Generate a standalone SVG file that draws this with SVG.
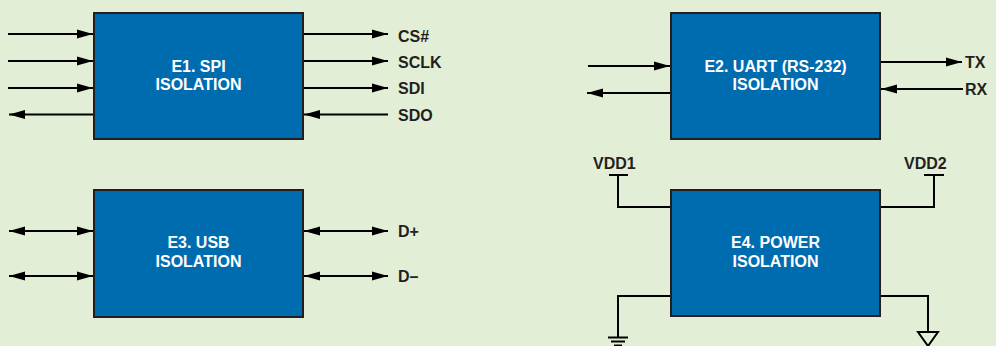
<svg xmlns="http://www.w3.org/2000/svg" width="996" height="346" viewBox="0 0 996 346">
<style>
.box{fill:#006cb0;stroke:#231f20;stroke-width:2}
.t{font-family:"Liberation Sans",Arial,sans-serif;font-weight:bold;font-size:16px;fill:#ffffff;text-anchor:middle}
.l{font-family:"Liberation Sans",Arial,sans-serif;font-weight:bold;font-size:16px;fill:#231f20}
.w{stroke:#000;stroke-width:2;fill:none}
.a{stroke:#000;stroke-width:2;fill:none;marker-end:url(#ah)}
.d{stroke:#000;stroke-width:2;fill:none;marker-end:url(#ah);marker-start:url(#ah)}
</style>
<defs>
<marker id="ah" markerUnits="userSpaceOnUse" markerWidth="16" markerHeight="10" refX="16" refY="5" orient="auto-start-reverse">
<path d="M0,0.5 L16,5 L0,9.5 Z" fill="#000"/>
</marker>
</defs>
<rect x="0" y="0" width="996" height="346" fill="#e2efd6"/>
<g id="connectors">
<line class="a" x1="8" y1="34" x2="93" y2="34"/>
<line class="a" x1="8" y1="61" x2="93" y2="61"/>
<line class="a" x1="8" y1="88" x2="93" y2="88"/>
<line class="a" x1="94" y1="114.5" x2="9" y2="114.5"/>
<line class="a" x1="303" y1="34" x2="388" y2="34"/>
<line class="a" x1="303" y1="61" x2="388" y2="61"/>
<line class="a" x1="303" y1="88" x2="388" y2="88"/>
<line class="a" x1="388" y1="114.5" x2="304" y2="114.5"/>
<line class="a" x1="588" y1="66" x2="670" y2="66"/>
<line class="a" x1="671" y1="93" x2="587" y2="93"/>
<line class="a" x1="880" y1="62" x2="962" y2="62"/>
<line class="a" x1="963" y1="89" x2="881" y2="89"/>
<line class="d" x1="9" y1="231" x2="93" y2="231"/>
<line class="d" x1="9" y1="276" x2="93" y2="276"/>
<line class="d" x1="304" y1="231" x2="388" y2="231"/>
<line class="d" x1="304" y1="276" x2="388" y2="276"/>
<polyline class="w" points="671,207 618,207 618,175"/>
<line class="w" x1="609" y1="175" x2="628" y2="175"/>
<polyline class="w" points="880,207 934,207 934,175"/>
<line class="w" x1="924" y1="175" x2="944" y2="175"/>
<polyline class="w" points="671,296 618,296 618,337"/>
<line class="w" x1="608" y1="337.5" x2="628" y2="337.5"/>
<line class="w" x1="611" y1="341.5" x2="625" y2="341.5"/>
<line class="w" x1="614" y1="345.5" x2="622" y2="345.5"/>
<polyline class="w" points="880,296 928,296 928,332"/>
<polygon class="w" points="918,332 938,332 928,346"/>
</g>
<g id="e1">
<rect class="box" x="94" y="13" width="209" height="126"/>
<text class="t" x="198.5" y="72">E1. SPI</text>
<text class="t" x="198.5" y="90">ISOLATION</text>
</g>
<g id="e2">
<rect class="box" x="671" y="13" width="209" height="126"/>
<text class="t" x="775.5" y="72">E2. UART (RS-232)</text>
<text class="t" x="775.5" y="90">ISOLATION</text>
</g>
<g id="e3">
<rect class="box" x="94" y="190" width="209" height="127"/>
<text class="t" x="198.5" y="248">E3. USB</text>
<text class="t" x="198.5" y="267">ISOLATION</text>
</g>
<g id="e4">
<rect class="box" x="671" y="190" width="209" height="126"/>
<text class="t" x="775.5" y="248">E4. POWER</text>
<text class="t" x="775.5" y="267">ISOLATION</text>
</g>
<g id="labels">
<text class="l" x="398" y="42">CS#</text>
<text class="l" x="398" y="68">SCLK</text>
<text class="l" x="398" y="94">SDI</text>
<text class="l" x="398" y="121">SDO</text>
<text class="l" x="965" y="68">TX</text>
<text class="l" x="965" y="95">RX</text>
<text class="l" x="398" y="237">D+</text>
<text class="l" x="398" y="282">D–</text>
<text class="l" x="593" y="169">VDD1</text>
<text class="l" x="904" y="169">VDD2</text>
</g>
</svg>
